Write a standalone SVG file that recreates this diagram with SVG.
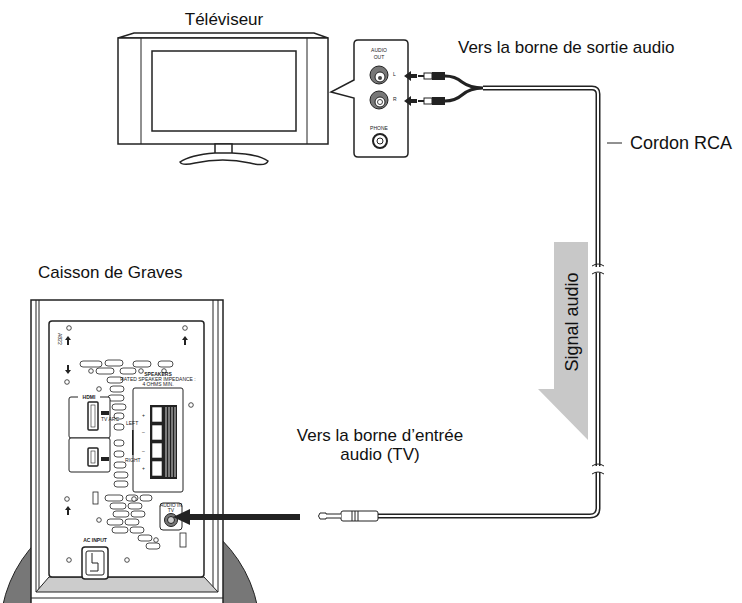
<svg xmlns="http://www.w3.org/2000/svg" width="742" height="603" viewBox="0 0 742 603">
<style>
.t{font-family:"Liberation Sans",Arial,sans-serif;fill:#111}
.s{fill:#fff;stroke:#222;stroke-width:1.5}
.th{fill:#fff;stroke:#222;stroke-width:1}
.sm{font-family:"Liberation Sans",Arial,sans-serif;fill:#222;font-size:5px}
.cab{fill:none;stroke:#222;stroke-width:5}
.cabi{fill:none;stroke:#fff;stroke-width:2}
</style>
<rect width="742" height="603" fill="#fff"/>
<g id="tv">
<polygon class="s" points="118,38 134,33 314,33 328,38"/>
<rect class="s" x="118" y="38" width="210" height="106"/>
<line x1="141" y1="38" x2="141" y2="144" stroke="#222"/>
<line x1="307" y1="38" x2="307" y2="144" stroke="#222"/>
<rect class="s" x="152" y="51" width="144" height="80"/>
<rect class="s" x="215" y="144" width="17" height="11"/>
<path class="s" d="M215,153 Q190,155 180,162 Q182,166 195,163 Q223,157 250,163 Q266,167 268,161 Q258,154 232,153 Z"/>
<text class="t" x="224" y="25" font-size="17" text-anchor="middle">Téléviseur</text>
</g>
<g id="tv-panel">
<path class="s" d="M358,40 H404 Q408,40 408,44 V153 Q408,157 404,157 H358 Q354,157 354,153 V98 L331,92 L354,80 V44 Q354,40 358,40 Z"/>
<text class="sm" x="379" y="52" text-anchor="middle">AUDIO</text>
<text class="sm" x="379" y="59" text-anchor="middle">OUT</text>
<circle cx="379" cy="75" r="9" fill="#777" stroke="#222"/><circle cx="380" cy="77" r="5" fill="#fff" stroke="#222"/><circle cx="380" cy="78" r="2" fill="#444"/>
<text class="sm" x="393" y="76">L</text>
<circle cx="379" cy="100" r="9" fill="#777" stroke="#222"/><circle cx="380" cy="102" r="5" fill="#fff" stroke="#222"/><circle cx="380" cy="102" r="2.5" fill="#fff" stroke="#444"/>
<text class="sm" x="393" y="101">R</text>
<text class="sm" x="379" y="130" text-anchor="middle">PHONE</text>
<circle cx="380" cy="141" r="7" fill="#fff" stroke="#222" stroke-width="2"/><circle cx="380" cy="141" r="3" fill="#fff" stroke="#222"/>
</g>
<g id="subwoofer">
<circle cx="130" cy="632" r="130" fill="#777" stroke="#222"/>
<rect class="s" x="31" y="300" width="192" height="310"/>
<line x1="36" y1="300" x2="36" y2="592" stroke="#222"/><line x1="218" y1="300" x2="218" y2="592" stroke="#222"/>
<line x1="39" y1="300" x2="39" y2="590" stroke="#222"/><line x1="213" y1="300" x2="213" y2="590" stroke="#222"/>
<polygon points="36,592 218,592 204,577 49,577" fill="#ccc" stroke="#222"/>
<line x1="31" y1="598" x2="223" y2="598" stroke="#222"/>
<rect class="s" x="49" y="321" width="155" height="256" rx="3"/>
<text class="sm" x="58" y="333" transform="rotate(90 58 333)" font-size="5">A822</text>
<g fill="#fff" stroke="#222" stroke-width="0.8">
<circle cx="69" cy="328" r="2.3"/><circle cx="185" cy="328" r="2.3"/><circle cx="67" cy="382" r="2.3"/><circle cx="67" cy="499" r="2.3"/>
<circle cx="99" cy="389" r="2.3"/><circle cx="191" cy="405" r="2.3"/><circle cx="99" cy="520" r="2.3"/><circle cx="69" cy="560" r="2.3"/><circle cx="127" cy="560" r="2.3"/>
<circle cx="77" cy="415" r="3"/><circle cx="77" cy="464" r="3"/><circle cx="159" cy="397" r="2.3"/><circle cx="159" cy="486" r="2.3"/>
<rect x="80" y="361" width="22" height="6" rx="3"/><rect x="105" y="360" width="18" height="6" rx="3"/><rect x="133" y="361" width="18" height="6" rx="3"/><rect x="158" y="361" width="15" height="6" rx="3"/>
<rect x="96" y="368" width="18" height="6" rx="3"/><rect x="120" y="368" width="16" height="6" rx="3"/><circle cx="91" cy="371" r="2.3"/><circle cx="141" cy="371" r="2.3"/><circle cx="164" cy="371" r="2.3"/>
<rect x="107" y="377" width="16" height="6" rx="3"/><rect x="110" y="386" width="14" height="6" rx="3"/><rect x="108" y="395" width="16" height="6" rx="3"/><rect x="112" y="404" width="14" height="6" rx="3"/>
<rect x="114" y="413" width="10" height="6" rx="3"/><rect x="114" y="424" width="10" height="6" rx="3"/><rect x="114" y="440" width="10" height="6" rx="3"/><rect x="114" y="451" width="10" height="6" rx="3"/>
<rect x="114" y="462" width="12" height="6" rx="3"/><rect x="114" y="472" width="14" height="6" rx="3"/><rect x="114" y="481" width="14" height="6" rx="3"/>
<rect x="105" y="495" width="18" height="6" rx="3"/><rect x="126" y="495" width="12" height="6" rx="3"/><circle cx="134" cy="499" r="2.3"/><rect x="140" y="495" width="12" height="6" rx="3"/>
<rect x="110" y="503" width="16" height="6" rx="3"/><rect x="128" y="503" width="14" height="6" rx="3"/><rect x="113" y="511" width="16" height="6" rx="3"/><rect x="131" y="511" width="14" height="6" rx="3"/>
<rect x="107" y="519" width="16" height="6" rx="3"/><rect x="125" y="519" width="14" height="6" rx="3"/><rect x="112" y="527" width="16" height="6" rx="3"/><rect x="130" y="527" width="14" height="6" rx="3"/>
<rect x="138" y="535" width="14" height="6" rx="3"/><rect x="146" y="543" width="14" height="6" rx="3"/><circle cx="156" cy="540" r="2.3"/>
<rect x="93" y="492" width="5" height="12"/><rect x="180" y="533" width="6" height="14"/>
</g>
<g fill="#222"><path d="M68,336 l3,4 h-2 v5 h-2 v-5 h-2 z"/><path d="M185,336 l3,4 h-2 v5 h-2 v-5 h-2 z"/><path d="M68,506 l3,4 h-2 v5 h-2 v-5 h-2 z"/><path d="M68,374 l3,-4 h-2 v-5 h-2 v5 h-2 z"/></g>
<rect class="th" x="69" y="397" width="41" height="41" rx="2"/>
<rect class="th" x="69" y="438" width="41" height="34" rx="2"/>
<rect x="78" y="394" width="22" height="6" fill="#fff"/>
<text class="sm" x="89" y="399" text-anchor="middle" font-weight="bold" font-size="6">HDMI</text>
<rect x="88" y="402" width="10" height="28" rx="1" fill="#fff" stroke="#222" stroke-width="1.5"/><rect x="91" y="405" width="4" height="22" fill="#fff" stroke="#222" stroke-width="0.6"/>
<rect x="88" y="448" width="10" height="18" rx="1" fill="#fff" stroke="#222" stroke-width="1.5"/><rect x="91" y="451" width="4" height="12" fill="#fff" stroke="#222" stroke-width="0.6"/>
<rect x="101" y="411" width="8" height="4" fill="#222"/><text class="sm" x="101" y="421" font-size="3">TV ARC</text>
<rect x="101" y="457" width="8" height="4" fill="#222"/>
<text class="sm" x="158" y="376" text-anchor="middle" font-weight="bold" font-size="4.5">SPEAKERS</text>
<text class="sm" x="158" y="381" text-anchor="middle" font-size="3">RATED SPEAKER IMPEDANCE :</text>
<text class="sm" x="158" y="385.5" text-anchor="middle" font-size="3">4 OHMS MIN.</text>
<rect class="th" x="133" y="388" width="50" height="104" rx="2"/>
<rect x="150" y="405" width="27" height="74" fill="#222"/>
<g fill="#fff" stroke="#222" stroke-width="0.6">
<rect x="152" y="407" width="10" height="15"/><rect x="152" y="425" width="10" height="15"/><rect x="152" y="443" width="10" height="15"/><rect x="152" y="461" width="10" height="15"/>
</g>
<g stroke="#fff" stroke-width="0.8"><line x1="166" y1="407" x2="166" y2="477"/><line x1="169" y1="407" x2="169" y2="477"/><line x1="172" y1="407" x2="172" y2="477"/><line x1="175" y1="407" x2="175" y2="477"/></g>
<text class="sm" x="142" y="417" font-size="7">+</text><text class="sm" x="142" y="434" font-size="7">–</text><text class="sm" x="142" y="453" font-size="7">–</text><text class="sm" x="142" y="470" font-size="7">+</text>
<text class="sm" x="126" y="425" font-size="4">LEFT</text><text class="sm" x="125" y="462" font-size="4">RIGHT</text>
<rect x="132" y="430" width="1.5" height="25" fill="#222"/>
<rect class="th" x="160" y="503" width="22" height="27" rx="3"/>
<text class="sm" x="171" y="507" text-anchor="middle" font-size="2.5">AUDIO IN</text><text class="sm" x="171" y="511.5" text-anchor="middle" font-size="2.5">TV</text>
<circle cx="171" cy="520" r="6.5" fill="#777" stroke="#222"/><circle cx="171" cy="520" r="3.5" fill="#ccc" stroke="#222"/>
<text class="sm" x="95" y="542" text-anchor="middle" font-size="6" font-weight="bold">AC INPUT</text>
<rect class="s" x="82" y="547" width="26" height="32" rx="3"/><rect x="86" y="551" width="18" height="24" rx="2" fill="#fff" stroke="#222"/>
<path d="M92,553 v10 h6 v8 h-8" fill="none" stroke="#222"/>
<text class="t" x="38" y="278" font-size="17">Caisson de Graves</text>
</g>
<g id="signal">
<polygon points="554,242 588,242 588,440 538,389 554,389" fill="#c8c8c8"/>
<text class="t" x="578" y="322" font-size="18" text-anchor="middle" transform="rotate(-90 578 322)">Signal audio</text>
</g>
<g id="connectors">
<path class="cab" d="M483,88 H592 Q598,88 598,94 V508 Q598,516 590,516 H378"/>
<path class="cabi" d="M483,88 H592 Q598,88 598,94 V508 Q598,516 590,516 H378"/>
<path d="M483,88 Q470,88 462,82 Q455,76 445,76 M483,88 Q470,88 462,95 Q455,101 445,101" fill="none" stroke="#222" stroke-width="3"/>
<g>
<rect x="432" y="72" width="13" height="8" fill="#222"/><rect x="424" y="73" width="8" height="6" fill="#fff" stroke="#222"/><line x1="418" y1="76" x2="424" y2="76" stroke="#222" stroke-width="2"/>
<rect x="432" y="97" width="13" height="8" fill="#222"/><rect x="424" y="98" width="8" height="6" fill="#fff" stroke="#222"/><line x1="418" y1="101" x2="424" y2="101" stroke="#222" stroke-width="2"/>
<path d="M404,76 l7,-5 v3 h6 v4 h-6 v3 z" fill="#222"/>
<path d="M404,101 l7,-5 v3 h6 v4 h-6 v3 z" fill="#222"/>
</g>
<rect x="594" y="267" width="8" height="6" fill="#fff"/>
<path d="M592,266 q6,-4 12,0 M592,274 q6,-4 12,0" fill="none" stroke="#222"/>
<rect x="594" y="466" width="8" height="6" fill="#fff"/>
<path d="M592,466 q6,-4 12,0 M592,474 q6,-4 12,0" fill="none" stroke="#222"/>
<rect x="341" y="511" width="37" height="10" rx="2" fill="#fff" stroke="#222"/>
<g stroke="#222"><line x1="352" y1="511" x2="352" y2="521"/><line x1="355" y1="511" x2="355" y2="521"/><line x1="358" y1="511" x2="358" y2="521"/></g>
<path d="M341,514 H326 V513 H320 Q317,516 320,519 H326 V518 H341" fill="#fff" stroke="#222"/>
<rect x="186" y="514" width="114" height="6" fill="#222"/>
<path d="M173,517 L190,509 V525 Z" fill="#222"/>
<line x1="607" y1="143" x2="622" y2="143" stroke="#222"/>
</g>
<g id="labels">
<text class="t" x="458" y="53" font-size="17">Vers la borne de sortie audio</text>
<text class="t" x="630" y="149" font-size="18">Cordon RCA</text>
<text class="t" x="380" y="441" font-size="17" text-anchor="middle">Vers la borne d’entrée</text>
<text class="t" x="380" y="460" font-size="17" text-anchor="middle">audio (TV)</text>
</g>
</svg>
